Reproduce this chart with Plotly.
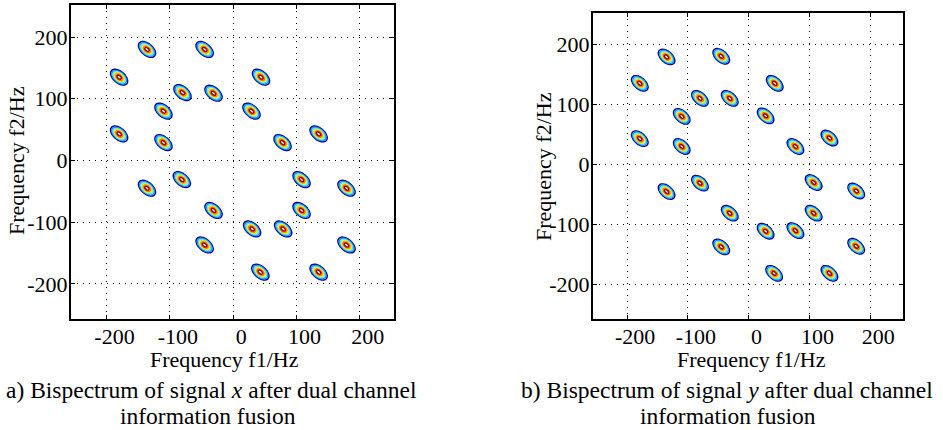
import numpy as np
import plotly.graph_objects as go

# ---- data: peak locations (Hz) ----
tick_vals = [-200, -100, 0, 100, 200]
tick_text = ["-200", "-100", "0", "100", "200"]

sig_x_f1 = [-136, -45, -180, 44, -80, -31, -110, 29, -180, -110, 78, 135,
            -136, -81, 108, 179, -31, 108, 30, 79, -45, 179, 43, 135]
sig_x_f2 = [180, 180, 135, 135, 110, 109, 80, 80, 43, 29, 29, 43,
            -45, -31, -31, -45, -81, -81, -111, -111, -137, -137, -181, -181]

sig_y_f1 = [-135, -45, -179, 43, -80, -31, -110, 28, -179, -110, 77, 133,
            -135, -80, 107, 177, -31, 107, 28, 77, -45, 177, 42, 133]
sig_y_f2 = [179, 180, 135, 135, 110, 110, 80, 81, 43, 30, 30, 44,
            -45, -31, -30, -44, -81, -81, -111, -110, -137, -136, -181, -181]

peak_amp = 1.0
captions = [("a) Bispectrum of signal <i>x</i> after dual channel", "information fusion"),
            ("b) Bispectrum of signal <i>y</i> after dual channel", "information fusion")]

# ---- surface built from the peak list (conical peaks -> evenly spaced rings) ----
freq = np.arange(-256, 256, 2.0)
FX, FY = np.meshgrid(freq, freq)
RU, RV = 17.5, 10.0
THETA = np.deg2rad(42)


def surface(f1s, f2s):
    z = np.zeros_like(FX)
    c, s = np.cos(THETA), np.sin(THETA)
    for a, b in zip(f1s, f2s):
        dx = FX - a
        dy = FY - b
        u = dx * c - dy * s
        v = dx * s + dy * c
        r = np.sqrt((u / RU) ** 2 + (v / RV) ** 2)
        z += peak_amp * np.clip(1 - r, 0, None)
    return np.round(z, 4)


cscale = [[0.0, "#00008b"], [0.2, "#1e8cff"], [0.4, "#40f0ff"],
          [0.6, "#ffe600"], [0.8, "#ff7a00"], [1.0, "#990000"]]

FONT = "Liberation Serif, Times New Roman, serif"
W, H = 943, 430

fig = go.Figure()
for i, (f1s, f2s) in enumerate([(sig_x_f1, sig_x_f2), (sig_y_f1, sig_y_f2)]):
    fig.add_trace(go.Contour(
        x=freq, y=freq, z=surface(f1s, f2s),
        contours=dict(coloring="lines", start=0.08, end=0.76, size=0.135),
        line=dict(width=1.5), colorscale=cscale, showscale=False,
        xaxis="x" if i == 0 else "x2", yaxis="y" if i == 0 else "y2",
        hoverinfo="skip"))

axis_common = dict(
    tickvals=tick_vals, ticktext=tick_text, ticks="inside", ticklen=4,
    tickcolor="black", showline=True, linecolor="black", linewidth=2,
    mirror="ticks", showgrid=True, gridcolor="black", gridwidth=1,
    griddash="1px,5px", zeroline=False,
    tickfont=dict(family=FONT, size=22, color="black"),
)

# pixel boxes for the two panels
boxes = [(71, 394, 5, 319), (593, 903, 13, 319)]


def px_dom_x(a, b):
    return [a / W, b / W]


def px_dom_y(top, bottom):
    return [(H - bottom) / H, (H - top) / H]


fig.update_layout(
    width=W, height=H, margin=dict(l=0, r=0, t=0, b=0),
    paper_bgcolor="white", plot_bgcolor="white", showlegend=False,
    xaxis=dict(domain=px_dom_x(boxes[0][0], boxes[0][1]), range=[-256, 254],
               anchor="y", ticklabelshift=8, ticklabelstandoff=-3, **axis_common),
    yaxis=dict(domain=px_dom_y(boxes[0][2], boxes[0][3]), range=[-257, 252],
               anchor="x", ticklabelstandoff=-3, **axis_common),
    xaxis2=dict(domain=px_dom_x(boxes[1][0], boxes[1][1]), range=[-256, 254],
                anchor="y2", ticklabelshift=8, ticklabelstandoff=-3, **axis_common),
    yaxis2=dict(domain=px_dom_y(boxes[1][2], boxes[1][3]), range=[-257, 252],
                anchor="x2", ticklabelstandoff=-3, **axis_common),
)

ann = []
tf = dict(family=FONT, size=22, color="black")
cf = dict(family=FONT, size=23.5, color="black")
# x axis titles
for xc in (224, 751):
    ann.append(dict(text="Frequency f1/Hz", x=xc / W, y=(H - 359) / H, xref="paper", yref="paper",
                    showarrow=False, font=tf, xanchor="center", yanchor="middle"))
# y axis titles
for xc, yc in ((16, 161), (543, 167)):
    ann.append(dict(text="Frequency f2/Hz", x=xc / W, y=(H - yc) / H, xref="paper", yref="paper",
                    showarrow=False, font=tf, xanchor="center", yanchor="middle", textangle=-90))
# captions
for xc, xc2, (l1, l2) in zip((211, 727), (208, 728), captions):
    ann.append(dict(text=l1, x=xc / W, y=(H - 390) / H, xref="paper", yref="paper",
                    showarrow=False, font=cf, xanchor="center", yanchor="middle"))
    ann.append(dict(text=l2, x=xc2 / W, y=(H - 416) / H, xref="paper", yref="paper",
                    showarrow=False, font=cf, xanchor="center", yanchor="middle"))
fig.update_layout(annotations=ann)

fig.write_html("out.html")
